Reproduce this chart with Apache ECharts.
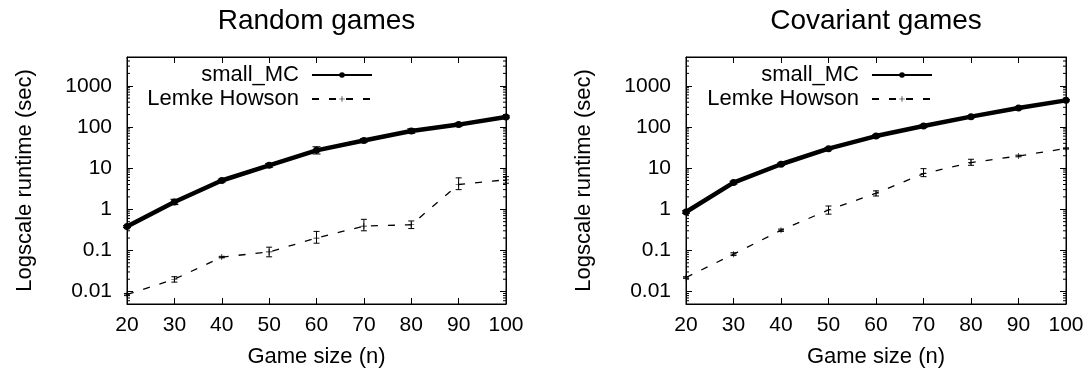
<!DOCTYPE html>
<html><head><meta charset="utf-8">
<script src="https://cdn.jsdelivr.net/npm/echarts@6/dist/echarts.min.js"></script>
<style>html,body{margin:0;padding:0;background:#fff}#c{width:1089px;height:373px}</style>
</head><body><div id="c"></div>
<script>
// ---- data ----
const gameSizes = [20, 30, 40, 50, 60, 70, 80, 90, 100];
const xTicks = [20, 30, 40, 50, 60, 70, 80, 90, 100];
const yTickLabels = ['0.01', '0.1', '1', '10', '100', '1000'];
const yMinorTicks = [0.006,0.007,0.008,0.009,
  0.02,0.03,0.04,0.05,0.06,0.07,0.08,0.09,
  0.2,0.3,0.4,0.5,0.6,0.7,0.8,0.9,
  2,3,4,5,6,7,8,9,
  20,30,40,50,60,70,80,90,
  200,300,400,500,600,700,800,900,
  2000,3000,4000];

// Random games
const randSmallMC     = [0.38, 1.5, 5.0, 11.7, 27, 47, 80, 114, 175];
const randSmallMCLow  = [0.36, 1.3, 4.6, 10.5, 22, 43, 70, 105, 166];
const randSmallMCHigh = [0.40, 1.75, 5.4, 13, 33, 52, 90, 124, 185];
const randLemke       = [0.0085, 0.02, 0.069, 0.092, 0.2, 0.39, 0.42, 4.0, 5.2];
const randLemkeLow    = [0.008, 0.017, 0.066, 0.07, 0.15, 0.3, 0.34, 3.0, 4.3];
const randLemkeHigh   = [0.009, 0.023, 0.072, 0.12, 0.29, 0.57, 0.52, 5.8, 6.2];

// Covariant games
const covSmallMC      = [0.86, 4.45, 12.4, 29.7, 60, 105, 178, 288, 442];
const covSmallMCLow   = [0.80, 4.1, 11.5, 28, 56, 98, 168, 275, 425];
const covSmallMCHigh  = [0.92, 4.8, 13.3, 31.5, 64, 112, 188, 300, 460];
const covLemke        = [0.022, 0.081, 0.31, 0.96, 2.45, 7.35, 13.6, 19.7, 30];
const covLemkeLow     = [0.021, 0.075, 0.29, 0.76, 2.1, 6.2, 11.7, 18.8, 29];
const covLemkeHigh    = [0.023, 0.088, 0.33, 1.2, 2.8, 9.7, 16.4, 20.6, 31];

const titles = ['Random games', 'Covariant games'];
const xName = 'Game size (n)';
const yName = 'Logscale runtime (sec)';

// ---- chart ----
const FONT = '"Liberation Sans", Arial, Helvetica, sans-serif';
const chart = echarts.init(document.getElementById('c'), null, {renderer: 'canvas'});

const grids = [
  {left: 127, right: 583, top: 57, bottom: 68},
  {left: 686, right: 23, top: 57, bottom: 68}
];

function yLabelFmt(v) {
  const e = Math.log10(v);
  if (Math.abs(e - Math.round(e)) > 1e-6) return '';
  const s = String(Number(v.toPrecision(6)));
  return yTickLabels.indexOf(s) >= 0 ? s : '';
}

const xAxes = [], yAxes = [];
grids.forEach((g, gi) => {
  xAxes.push({
    gridIndex: gi, type: 'value', min: 20, max: 100, interval: 10, position: 'bottom',
    name: xName, nameLocation: 'middle', nameGap: 42,
    nameTextStyle: {fontSize: 22, fontFamily: FONT, color: '#000'},
    axisLine: {show: true, lineStyle: {color: '#000', width: 1}},
    axisTick: {show: true, inside: true, length: 6, lineStyle: {color: '#000'}},
    axisLabel: {fontSize: 21, fontFamily: FONT, color: '#000', margin: 11},
    splitLine: {show: false}
  });
  xAxes.push({
    gridIndex: gi, type: 'value', min: 20, max: 100, interval: 10, position: 'top',
    axisLine: {show: true, lineStyle: {color: '#000', width: 1}},
    axisTick: {show: true, inside: true, length: 6, lineStyle: {color: '#000'}},
    axisLabel: {show: false}, splitLine: {show: false}
  });
  yAxes.push({
    gridIndex: gi, type: 'log', logBase: 10, min: 0.005, max: 5000, position: 'left',
    name: yName, nameLocation: 'middle', nameGap: 91,
    nameTextStyle: {fontSize: 22, fontFamily: FONT, color: '#000'},
    axisLine: {show: true, lineStyle: {color: '#000', width: 1}},
    axisTick: {show: true, inside: true, length: 6, lineStyle: {color: '#000'}},
    axisLabel: {fontSize: 21, fontFamily: FONT, color: '#000', margin: 15, formatter: yLabelFmt, showMinLabel: true, showMaxLabel: true},
    splitLine: {show: false}
  });
  yAxes.push({
    gridIndex: gi, type: 'log', logBase: 10, min: 0.005, max: 5000, position: 'right',
    axisLine: {show: true, lineStyle: {color: '#000', width: 1}},
    axisTick: {show: true, inside: true, length: 6, lineStyle: {color: '#000'}},
    axisLabel: {show: false}, splitLine: {show: false}
  });
});

function errBar(cap) {
  return function (params, api) {
    const x = api.value(0), lo = api.value(1), hi = api.value(2);
    const a = api.coord([x, lo]), b = api.coord([x, hi]);
    const st = {stroke: '#000', lineWidth: 1, fill: null};
    return {type: 'group', children: [
      {type: 'line', shape: {x1: a[0], y1: a[1], x2: b[0], y2: b[1]}, style: st},
      {type: 'line', shape: {x1: a[0] - cap, y1: a[1], x2: a[0] + cap, y2: a[1]}, style: st},
      {type: 'line', shape: {x1: b[0] - cap, y1: b[1], x2: b[0] + cap, y2: b[1]}, style: st}
    ]};
  };
}
function minorTicks(params, api) {
  const p = api.coord([20, api.value(1)]);
  const cs = params.coordSys;
  const st = {stroke: '#000', lineWidth: 1};
  return {type: 'group', children: [
    {type: 'line', shape: {x1: cs.x, y1: p[1], x2: cs.x + 3, y2: p[1]}, style: st},
    {type: 'line', shape: {x1: cs.x + cs.width - 3, y1: p[1], x2: cs.x + cs.width, y2: p[1]}, style: st}
  ]};
}
const zip = (xs, lo, hi) => xs.map((x, i) => [x, lo[i], hi[i]]);
const pairs = (xs, ys) => xs.map((x, i) => [x, ys[i]]);
const plusPath = 'path://M0,4 L4,4 L4,0 L5,0 L5,4 L9,4 L9,5 L5,5 L5,9 L4,9 L4,5 L0,5 Z';

const sets = [
  {mc: randSmallMC, mcLo: randSmallMCLow, mcHi: randSmallMCHigh, lh: randLemke, lhLo: randLemkeLow, lhHi: randLemkeHigh},
  {mc: covSmallMC, mcLo: covSmallMCLow, mcHi: covSmallMCHigh, lh: covLemke, lhLo: covLemkeLow, lhHi: covLemkeHigh}
];
const series = [];
sets.forEach((s, gi) => {
  const xi = gi * 2, yi = gi * 2;
  series.push({
    type: 'custom', name: 'minor' + gi, xAxisIndex: xi, yAxisIndex: yi,
    data: yMinorTicks.map(v => [20, v]), encode: {x: 0, y: 1},
    renderItem: minorTicks, silent: true, z: 1
  });
  series.push({
    type: 'line', name: 'Lemke Howson', xAxisIndex: xi, yAxisIndex: yi,
    data: pairs(gameSizes, s.lh), symbol: plusPath, symbolSize: 6,
    lineStyle: {color: '#000', width: 1.3, type: [7, 10]},
    itemStyle: {color: '#000'}, animation: false, z: 3
  });
  series.push({
    type: 'custom', name: 'lhErr' + gi, xAxisIndex: xi, yAxisIndex: yi,
    data: zip(gameSizes, s.lhLo, s.lhHi), encode: {x: 0, y: [1, 2]},
    renderItem: errBar(3), silent: true, z: 3
  });
  series.push({
    type: 'custom', name: 'mcErr' + gi, xAxisIndex: xi, yAxisIndex: yi,
    data: zip(gameSizes, s.mcLo, s.mcHi), encode: {x: 0, y: [1, 2]},
    renderItem: errBar(4), silent: true, z: 4
  });
  series.push({
    type: 'line', name: 'small_MC', xAxisIndex: xi, yAxisIndex: yi,
    data: pairs(gameSizes, s.mc), symbol: 'circle', symbolSize: 7,
    lineStyle: {color: '#000', width: 4.5},
    itemStyle: {color: '#000'}, animation: false, z: 5
  });
});

const legendBase = {
  orient: 'vertical', align: 'right', top: 59, itemWidth: 60, itemHeight: 7, itemGap: 2,
  textStyle: {fontSize: 22, fontFamily: FONT, color: '#000', padding: [0, 8, 0, 0]},
  data: ['small_MC', 'Lemke Howson'], selectedMode: false
};

chart.setOption({
  animation: false,
  backgroundColor: '#fff',
  grid: grids.map(g => Object.assign({show: true, borderColor: '#000', borderWidth: 1, backgroundColor: 'transparent'}, g)),
  xAxis: xAxes,
  yAxis: yAxes,
  legend: [
    Object.assign({}, legendBase, {right: 711}),
    Object.assign({}, legendBase, {right: 151})
  ],
  graphic: titles.map((t, i) => ({
    type: 'text',
    x: i === 0 ? (127 + 506) / 2 : (686 + 1066) / 2,
    y: 21,
    style: {text: t, fontSize: 28, fontFamily: FONT, fill: '#000', textAlign: 'center', textVerticalAlign: 'middle'}
  })),
  series: series
});
</script>
</body></html>
